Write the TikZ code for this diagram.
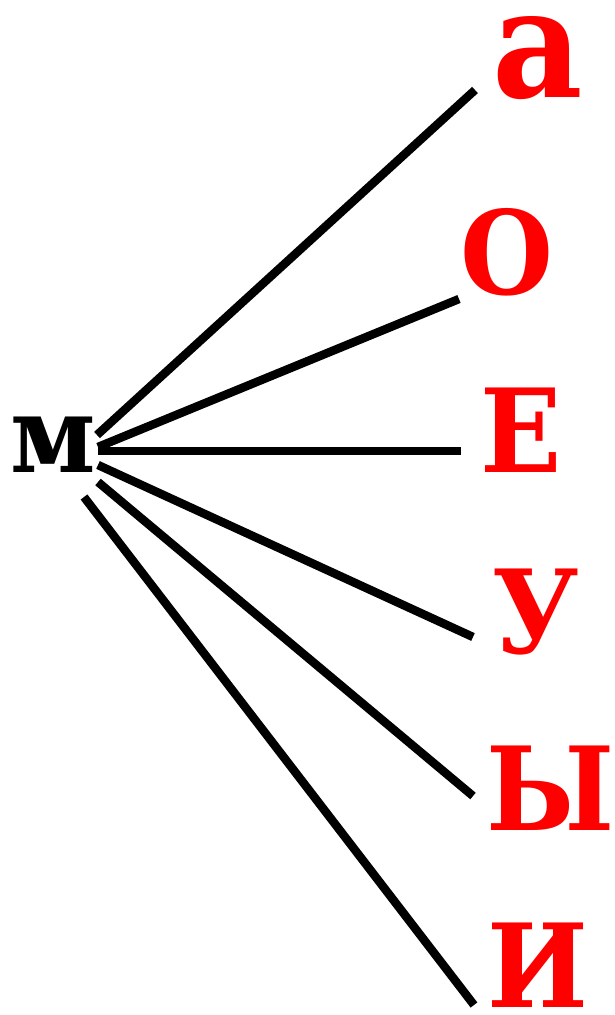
\documentclass[tikz,border=0pt]{standalone}
\usepackage{fontspec}
\setmainfont{DejaVu Serif}[FakeStretch=0.92]
\usetikzlibrary{positioning}
\definecolor{vowelred}{RGB}{255,0,0}

\begin{document}
\begin{tikzpicture}[x=1pt,y=-1pt,
    ray/.style={line width=8.5pt,black},
    cons/.style={inner sep=0pt,anchor=base,text height=60pt,text depth=0pt,font=\fontsize{107}{107}\selectfont\bfseries},
    vowel/.style={inner sep=0pt,anchor=base,text height=86pt,text depth=0pt,vowelred,font=\fontsize{116}{116}\selectfont\bfseries}]
      \useasboundingbox (0,0) rectangle (615,1015);
      % consonant on the left
      \node[cons] (m) at (53,472) {м};
      % vowels on the right (red)
      \node[vowel,text height=86pt,font=\fontsize{152}{152}\selectfont\bfseries] (a) at (538,97) {а};
      \node[vowel] (o) at (507,294) {О};
      \node[vowel] (e) at (521,472) {Е};
      \node[vowel] (u) at (536,653) {У};
      \node[vowel] (y) at (551,830) {Ы};
      \node[vowel] (i) at (538,1007) {И};
      % start and end points of the rays
      \coordinate (ma) at (97,435);
      \coordinate (mo) at (98,447);
      \coordinate (me) at (98,451);
      \coordinate (mu) at (98,465);
      \coordinate (my) at (98,482);
      \coordinate (mi) at (84,497);
      \coordinate (ta) at (475,90);
      \coordinate (to) at (459,299);
      \coordinate (te) at (461,451);
      \coordinate (tu) at (473,637);
      \coordinate (ty) at (473,796);
      \coordinate (ti) at (474,1005);
      % rays
      \draw[ray] (ma) -- (ta);
      \draw[ray] (mo) -- (to);
      \draw[ray] (me) -- (te);
      \draw[ray] (mu) -- (tu);
      \draw[ray] (my) -- (ty);
      \draw[ray] (mi) -- (ti);
\end{tikzpicture}
\end{document}
